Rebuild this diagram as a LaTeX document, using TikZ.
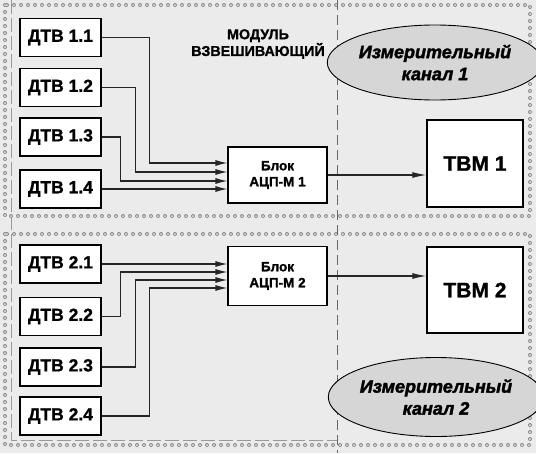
\documentclass[tikz,border=0pt]{standalone}
\usepackage{fontspec}
\setmainfont{Liberation Sans}[BoldFeatures={FakeBold=1.2},BoldItalicFeatures={FakeBold=2}]
\usetikzlibrary{shapes.geometric,arrows.meta,calc}
\definecolor{bgc}{HTML}{EBEBEB}
\definecolor{dotc}{HTML}{8C8C8C}
\definecolor{ellc}{HTML}{D6D6D6}
\begin{document}
\begin{tikzpicture}[x=1pt,y=-1pt,
  sensor/.style={draw,line width=1.3pt,fill=white,minimum width=81pt,minimum height=38pt,inner sep=0pt,font=\fontsize{17.5}{20}\selectfont\bfseries},
  adc/.style={draw,line width=1.1pt,fill=white,minimum width=99pt,inner sep=0pt,align=center,font=\fontsize{13.5}{16}\selectfont\bfseries},
  tvm/.style={draw,line width=1.3pt,fill=white,minimum width=96pt,inner sep=0pt,font=\fontsize{21}{24}\selectfont\bfseries},
  chan/.style={ellipse,draw,line width=0.9pt,fill=ellc,inner sep=0pt,align=center,font=\fontsize{18}{22}\selectfont\bfseries\itshape},
  conn/.style={line width=1.2pt,draw=black!85,-{Latex[length=12pt,width=6pt]}},
  ringo/.style={line width=4pt,draw=dotc,line cap=round,dash pattern=on 0pt off 7pt},
  ringi/.style={line width=2pt,draw=bgc,line cap=round,dash pattern=on 0pt off 7pt},
  sep/.style={line width=0.9pt,draw=black!60,dash pattern=on 10pt off 5pt}]
\fill[bgc] (0,0) rectangle (536,453);
\useasboundingbox (0,0) rectangle (536,453);
% frames
\draw[line width=0.6pt,draw=black!40,dash pattern=on 14pt off 4pt] (11,0) -- (11,440) -- (337,440);
\foreach \a/\b in {5/216,234/445}{
  \draw[ringo] (5,\a) rectangle (530,\b);
  \draw[ringi] (5,\a) rectangle (530,\b);
}
\draw[sep] (337,0) -- (337,453);
% label
\node[align=center,font=\fontsize{14.3}{14}\selectfont\bfseries] (mod) at (258,44) {МОДУЛЬ\\ВЗВЕШИВАЮЩИЙ};
% channel 1
\node[sensor] (d11) at (60.5,37.5) {ДТВ 1.1};
\node[sensor] (d12) at (60.5,87.5) {ДТВ 1.2};
\node[sensor] (d13) at (60.5,137) {ДТВ 1.3};
\node[sensor] (d14) at (60.5,189) {ДТВ 1.4};
\node[adc,minimum height=56pt] (b1) at (277.5,175) {Блок\\АЦП-М 1};
\node[tvm,minimum height=87pt] (t1) at (475,163.5) {ТВМ 1};
\node[chan,minimum width=176pt,minimum height=75pt] (e1) at (435,62.5) {Измерительный\\канал 1};
\draw[conn] (d11.east) -- ++(48,0) |- ($(b1.west)+(0,-12)$);
\draw[conn] (d12.east) -- ++(34,0) |- ($(b1.west)+(0,-3)$);
\draw[conn] (d13.east) -- ++(19,0) |- ($(b1.west)+(0,6)$);
\draw[conn] (d14.east) -- (d14.east -| b1.west);
\draw[conn,-{Latex[length=14pt,width=6pt]}] (b1.east) -- (b1.east -| t1.west);
% channel 2
\node[sensor] (d21) at (60.5,264) {ДТВ 2.1};
\node[sensor] (d22) at (60.5,316.5) {ДТВ 2.2};
\node[sensor] (d23) at (60.5,367) {ДТВ 2.3};
\node[sensor] (d24) at (60.5,416) {ДТВ 2.4};
\node[adc,minimum height=59pt] (b2) at (277.5,276) {Блок\\АЦП-М 2};
\node[tvm,minimum height=86pt] (t2) at (475,290) {ТВМ 2};
\node[chan,minimum width=174pt,minimum height=79pt] (e2) at (436,397) {Измерительный\\канал 2};
\draw[conn] (d21.east) -- (d21.east -| b2.west);
\draw[conn] (d22.east) -- ++(19,0) |- ($(b2.west)+(0,-4)$);
\draw[conn] (d23.east) -- ++(34,0) |- ($(b2.west)+(0,4)$);
\draw[conn] (d24.east) -- ++(48,0) |- ($(b2.west)+(0,12)$);
\draw[conn,-{Latex[length=14pt,width=6pt]}] (b2.east) -- (b2.east -| t2.west);
\end{tikzpicture}
\end{document}
